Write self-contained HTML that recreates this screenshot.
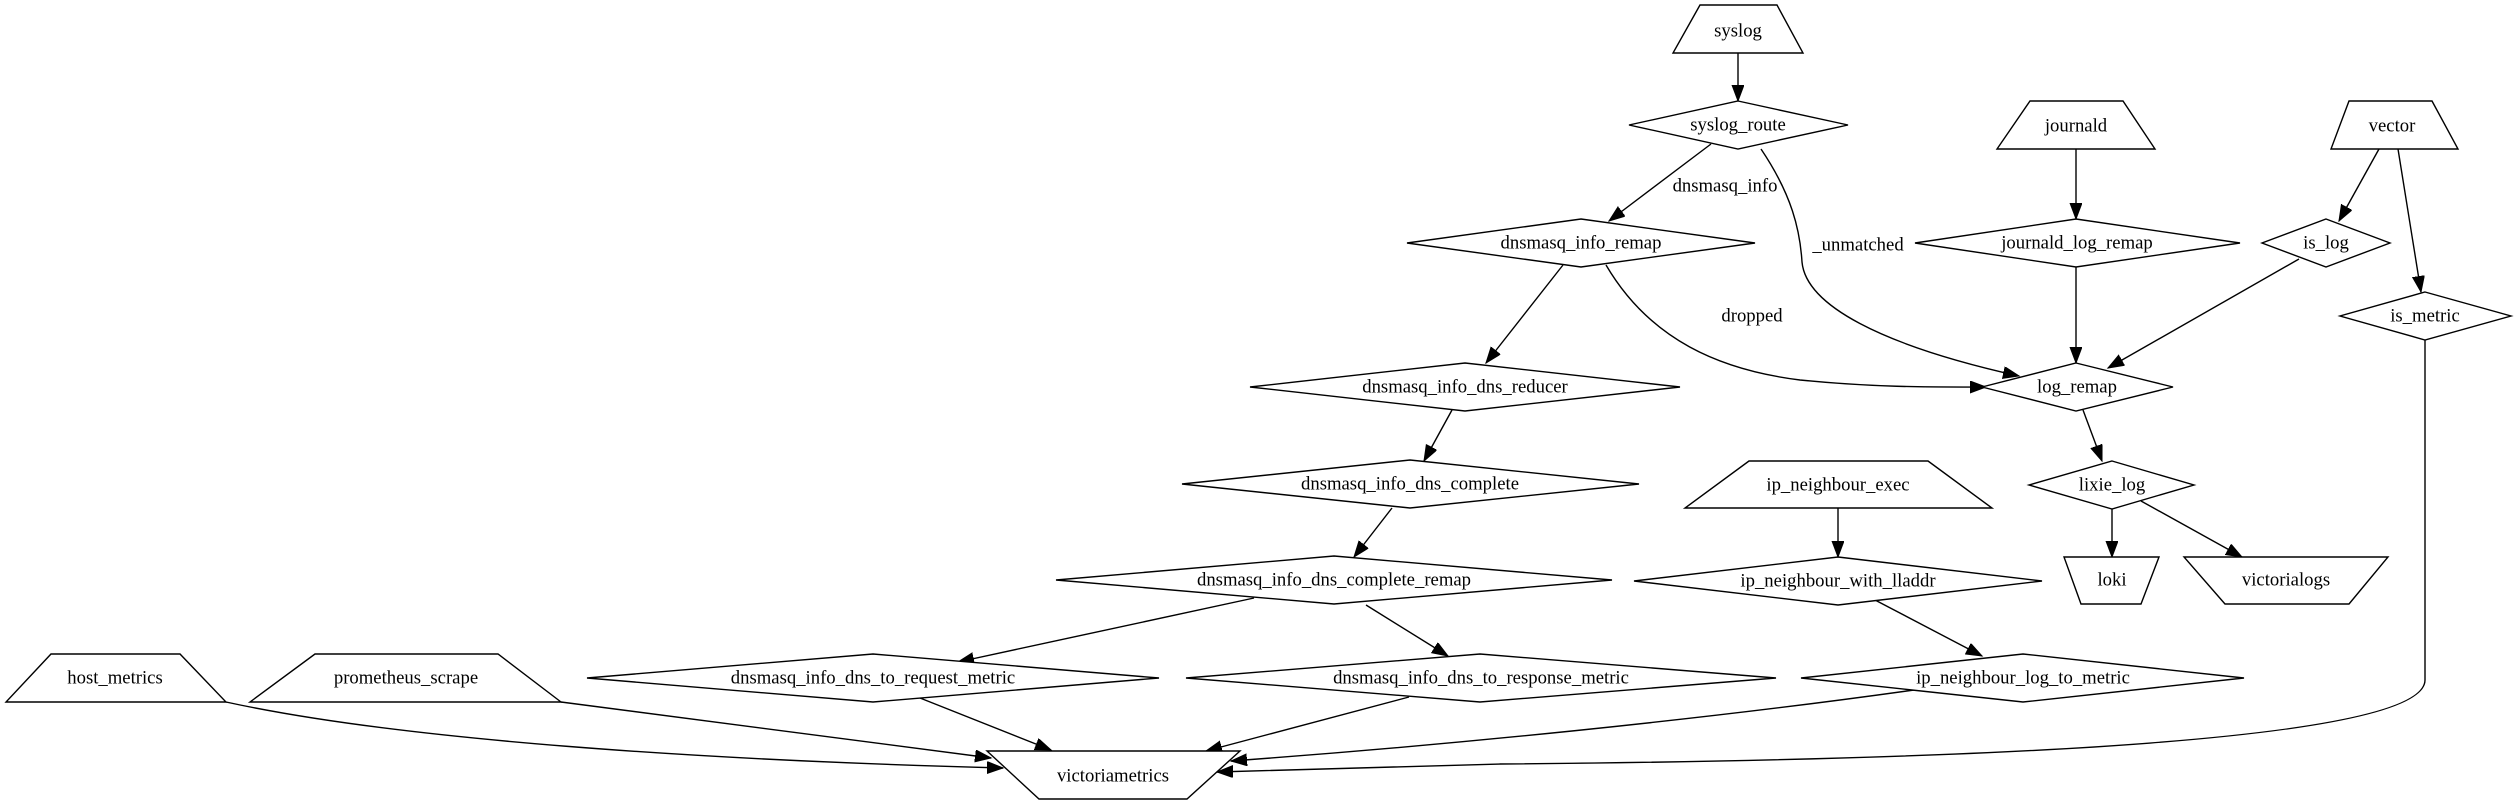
<!DOCTYPE html>
<html><head><meta charset="utf-8"><style>
html,body{margin:0;padding:0;background:#fff;}
svg{display:block;}
text{font-family:"Liberation Serif","Times New Roman",serif;font-size:18.7px;fill:#000;text-anchor:middle;dominant-baseline:central;}
.n{fill:#fff;stroke:#000;stroke-width:1.4;}
.e{fill:none;stroke:#000;stroke-width:1.4;}
</style></head><body>
<svg width="2518" height="805" viewBox="0 0 2518 805" xmlns="http://www.w3.org/2000/svg">
<defs>
<marker id="a" markerUnits="userSpaceOnUse" markerWidth="18" markerHeight="14" refX="16" refY="6" orient="auto">
<path d="M0,0 L16,6 L0,12 Z" fill="#000" stroke="#000" stroke-width="1"/>
</marker>
</defs>

<!-- edges -->
<path class="e" marker-end="url(#a)" d="M1738,53 L1738,101"/>
<path class="e" marker-end="url(#a)" d="M1711,144 L1609,221"/>
<text x="1725" y="186">dnsmasq_info</text>
<path class="e" marker-end="url(#a)" d="M1761,149 C1792,195 1800,230 1802,262 C1806,305 1880,345 2019,376"/>
<text x="1858" y="245">_unmatched</text>
<path class="e" marker-end="url(#a)" d="M1606,265 C1650,340 1720,370 1800,380 C1880,388 1940,387 1986,387"/>
<text x="1752" y="316">dropped</text>
<path class="e" marker-end="url(#a)" d="M1563,265 L1486,363"/>
<path class="e" marker-end="url(#a)" d="M2076,149 L2076,219"/>
<path class="e" marker-end="url(#a)" d="M2076,267 L2076,363"/>
<path class="e" marker-end="url(#a)" d="M2379,149 L2339,221"/>
<path class="e" marker-end="url(#a)" d="M2398,149 L2421,292"/>
<path class="e" marker-end="url(#a)" d="M2299,259 L2108,368"/>
<path class="e" marker-end="url(#a)" d="M1452,410 L1424,461"/>
<path class="e" marker-end="url(#a)" d="M1392,508 L1354,557"/>
<path class="e" marker-end="url(#a)" d="M2083,410 L2102,461"/>
<path class="e" marker-end="url(#a)" d="M2112,508 L2112,557"/>
<path class="e" marker-end="url(#a)" d="M2141,501 L2242,557"/>
<path class="e" marker-end="url(#a)" d="M1838,508 L1838,557"/>
<path class="e" marker-end="url(#a)" d="M1254,598 L958,662"/>
<path class="e" marker-end="url(#a)" d="M1366,605 L1448,656"/>
<path class="e" marker-end="url(#a)" d="M1875,600 L1982,656"/>
<path class="e" marker-end="url(#a)" d="M920,698 L1051,750"/>
<path class="e" marker-end="url(#a)" d="M1409,697 L1206,751"/>
<path class="e" marker-end="url(#a)" d="M226,702 C400,740 700,760 1003,768"/>
<path class="e" marker-end="url(#a)" d="M561,702 L991,758"/>
<path class="e" marker-end="url(#a)" d="M1914,690 C1700,720 1450,745 1231,761"/>
<path class="e" marker-end="url(#a)" d="M2425,339 L2425,680 C2425,740 2000,760 1500,764 C1400,766 1300,770 1217,772"/>

<!-- nodes -->
<polygon class="n" points="1700,5 1777,5 1803,53 1673,53"/><text x="1738" y="31">syslog</text>
<polygon class="n" points="1738,101 1848,125 1738,149 1629,125"/><text x="1738" y="125">syslog_route</text>
<polygon class="n" points="2030,101 2123,101 2155,149 1997,149"/><text x="2076" y="126">journald</text>
<polygon class="n" points="2349,101 2432,101 2458,149 2331,149"/><text x="2392" y="126">vector</text>
<polygon class="n" points="1581,219 1755,243 1581,267 1407,243"/><text x="1581" y="243">dnsmasq_info_remap</text>
<polygon class="n" points="2076,219 2240,243 2076,267 1915,243"/><text x="2077" y="243">journald_log_remap</text>
<polygon class="n" points="2326,219 2390,243 2326,267 2262,243"/><text x="2326" y="243">is_log</text>
<polygon class="n" points="2425,292 2511,316 2425,340 2340,316"/><text x="2425" y="316">is_metric</text>
<polygon class="n" points="2076,363 2173,387 2076,411 1982,387"/><text x="2077" y="387">log_remap</text>
<polygon class="n" points="1465,363 1680,387 1465,411 1250,387"/><text x="1465" y="387">dnsmasq_info_dns_reducer</text>
<polygon class="n" points="1410,460 1639,484 1410,508 1182,484"/><text x="1410" y="484">dnsmasq_info_dns_complete</text>
<polygon class="n" points="2112,461 2194,485 2112,509 2029,485"/><text x="2112" y="485">lixie_log</text>
<polygon class="n" points="1749,461 1928,461 1992,508 1685,508"/><text x="1838" y="485">ip_neighbour_exec</text>
<polygon class="n" points="1334,556 1612,580 1334,604 1056,580"/><text x="1334" y="580">dnsmasq_info_dns_complete_remap</text>
<polygon class="n" points="1838,557 2042,581 1838,605 1634,581"/><text x="1838" y="581">ip_neighbour_with_lladdr</text>
<polygon class="n" points="2064,557 2159,557 2141,604 2081,604"/><text x="2112" y="580">loki</text>
<polygon class="n" points="2184,557 2388,557 2349,604 2225,604"/><text x="2286" y="580">victorialogs</text>
<polygon class="n" points="51,654 180,654 226,702 6,702"/><text x="115" y="678">host_metrics</text>
<polygon class="n" points="315,654 498,654 561,702 250,702"/><text x="406" y="678">prometheus_scrape</text>
<polygon class="n" points="873,654 1159,678 873,702 587,678"/><text x="873" y="678">dnsmasq_info_dns_to_request_metric</text>
<polygon class="n" points="1480,654 1776,678 1480,702 1186,678"/><text x="1481" y="678">dnsmasq_info_dns_to_response_metric</text>
<polygon class="n" points="2023,654 2244,678 2023,702 1801,678"/><text x="2023" y="678">ip_neighbour_log_to_metric</text>
<polygon class="n" points="987,751 1240,751 1187,799 1039,799"/><text x="1113" y="776">victoriametrics</text>
</svg>
</body></html>
